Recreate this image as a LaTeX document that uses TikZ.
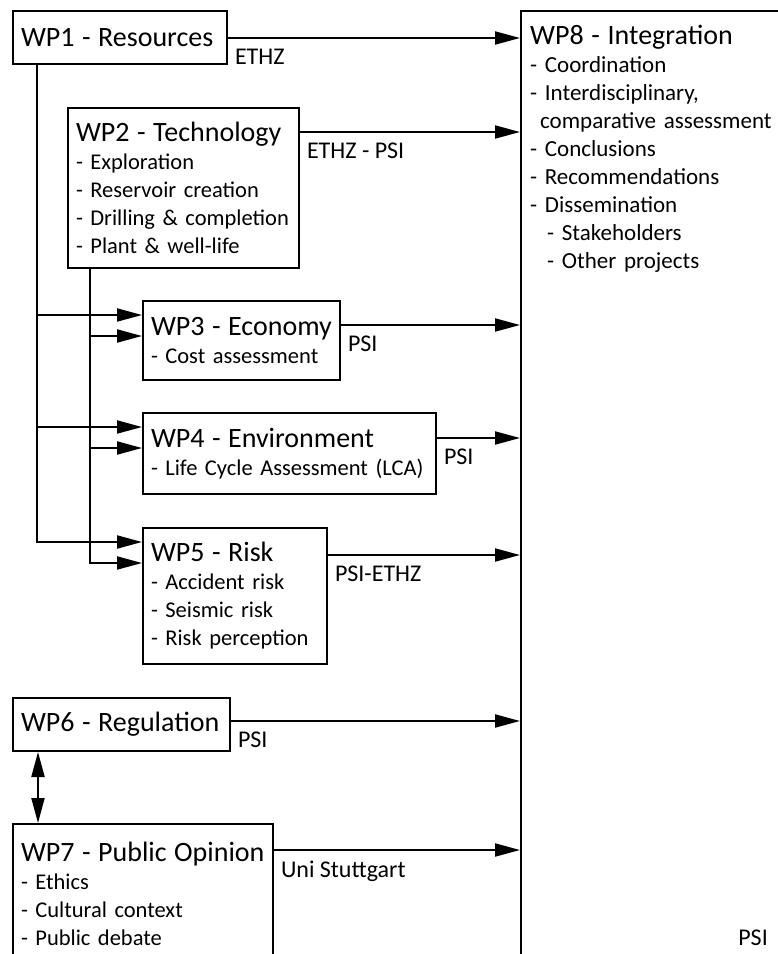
\documentclass[tikz,border=0pt]{standalone}
\usepackage{fontspec}
\setmainfont{Carlito}
\usetikzlibrary{arrows.meta}
\newcommand{\wphead}[1]{\mbox{\fontsize{28}{28}\selectfont #1}}
\begin{document}
\begin{tikzpicture}[x=1pt,y=-1pt,
  wp/.style={draw,line width=2pt,anchor=north west,align=left,inner xsep=8pt,inner ysep=0pt,font=\fontsize{22.5}{28}\selectfont},
  flow/.style={line width=2pt,-{Triangle[length=25pt,width=13pt]}},
  both/.style={line width=2pt,{Triangle[length=25pt,width=13pt]}-{Triangle[length=25pt,width=13pt]}},
  tag/.style={anchor=north west,inner sep=0pt,xshift=6pt,yshift=-10pt,font=\fontsize{24}{28}\selectfont}]
\useasboundingbox (0,0) rectangle (778,954);
\clip (0,0) rectangle (778,954);
\node[wp,minimum width=300pt,minimum height=1000pt](wp8) at (520,10){};
\node[anchor=north west,align=left,inner sep=0pt,text width=250pt,font=\fontsize{23}{28}\selectfont](wp8txt) at ([xshift=10pt,yshift=-15pt]wp8.north west){\wphead{WP8 - Integration}\\
- Coordination\\
- Interdisciplinary,\\
\hspace*{10pt}comparative assessment\\
- Conclusions\\
- Recommendations\\
- Dissemination\\
\hspace*{17pt}- Stakeholders\\
\hspace*{17pt}- Other projects};
\node[wp,text width=198pt,minimum height=53pt](wp1) at (12,10){\wphead{WP1 - Resources}};
\node[wp,text width=215pt,minimum height=160pt](wp2) at (67,107){\wphead{WP2 - Technology}\\
- Exploration\\
- Reservoir creation\\
- Drilling \& completion\\
- Plant \& well-life};
\node[wp,text width=181pt,minimum height=79pt](wp3) at (142,300){\wphead{WP3 - Economy}\\
- Cost assessment};
\node[wp,text width=277pt,minimum height=81pt](wp4) at (142,412){\wphead{WP4 - Environment}\\
- Life Cycle Assessment (LCA)};
\node[wp,text width=168pt,minimum height=136pt](wp5) at (142,527){\wphead{WP5 - Risk}\\
- Accident risk\\
- Seismic risk\\
- Risk perception};
\node[wp,text width=201pt,minimum height=53pt](wp6) at (12,697){\wphead{WP6 - Regulation}};
\node[wp,text width=244pt,minimum height=139pt](wp7) at (12,823){\wphead{WP7 - Public Opinion}\\
- Ethics\\
- Cultural context\\
- Public debate};
\node[anchor=base east,inner sep=0pt,font=\fontsize{24}{28}\selectfont](psi8) at (768,945){PSI};
\foreach \n/\d/\lab in {1/28/ETHZ,2/25/ETHZ - PSI,3/25/PSI,4/26/PSI,5/28/PSI-ETHZ,6/24/PSI,7/27/Uni Stuttgart}{
  \coordinate (o\n) at ([yshift=-\d pt]wp\n.north east);
  \draw[flow] (o\n) node[tag](t\n){\lab} -- (o\n -| wp8.west);
}
\coordinate (b1) at ([xshift=25pt]wp1.south west);
\coordinate (b2) at ([xshift=23pt]wp2.south west);
\foreach \n in {3,4,5}{
  \coordinate (i\n) at ([yshift=-15pt]wp\n.north west);
  \coordinate (j\n) at ([yshift=-36pt]wp\n.north west);
}
\draw[flow] (b1) |- (i5);
\draw[flow] (b2) |- (j5);
\foreach \n in {3,4}{
  \draw[flow] (b1 |- i\n) -- (i\n);
  \draw[flow] (b2 |- j\n) -- (j\n);
}
\draw[both] ([xshift=26pt]wp6.south west) -- ([xshift=26pt]wp7.north west);
\end{tikzpicture}
\end{document}
